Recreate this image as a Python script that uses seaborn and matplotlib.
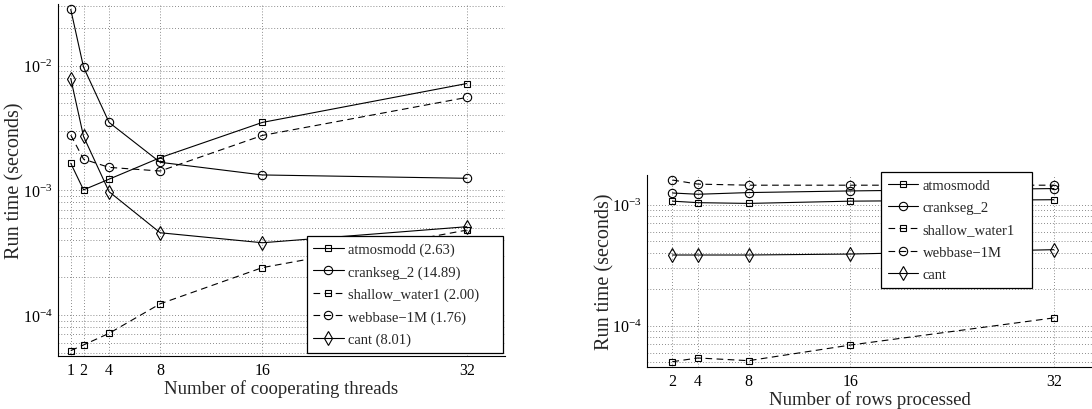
import numpy as np
import pandas as pd
import seaborn as sns
import matplotlib.pyplot as plt
from matplotlib import ticker

# left panel: run time vs number of cooperating threads
threads = [1, 2, 4, 8, 16, 32]
left_names = ['atmosmodd (2.63)', 'crankseg_2 (14.89)', 'shallow_water1 (2.00)',
              'webbase\u22121M (1.76)', 'cant (8.01)']
left_atmosmodd = [1.65e-3, 1.01e-3, 1.23e-3, 1.83e-3, 3.51e-3, 7.2e-3]
left_crankseg = [2.83e-2, 9.75e-3, 3.51e-3, 1.68e-3, 1.33e-3, 1.25e-3]
left_shallow = [5.18e-5, 5.75e-5, 7.13e-5, 1.23e-4, 2.4e-4, 4.8e-4]
left_webbase = [2.78e-3, 1.78e-3, 1.53e-3, 1.43e-3, 2.76e-3, 5.57e-3]
left_cant = [7.9e-3, 2.71e-3, 9.76e-4, 4.57e-4, 3.8e-4, 5.11e-4]

# right panel: run time vs number of rows processed
rows = [2, 4, 8, 16, 32]
right_names = ['atmosmodd', 'crankseg_2', 'shallow_water1', 'webbase\u22121M', 'cant']
right_atmosmodd = [1.07e-3, 1.04e-3, 1.025e-3, 1.07e-3, 1.1e-3]
right_crankseg = [1.25e-3, 1.22e-3, 1.26e-3, 1.30e-3, 1.36e-3]
right_shallow = [5.04e-5, 5.41e-5, 5.14e-5, 6.92e-5, 1.16e-4]
right_webbase = [1.6e-3, 1.48e-3, 1.45e-3, 1.45e-3, 1.45e-3]
right_cant = [3.84e-4, 3.84e-4, 3.84e-4, 3.91e-4, 4.25e-4]

markers = ['s', 'o', 's', 'o', 'd']
dashed = [False, False, True, True, False]
marker_size = {'s': 5.0, 'o': 6.0, 'd': 7.0}
dot = (0, (1, 2.5))


def long_frame(xs, names, series, xcol):
    recs = []
    for name, vals in zip(names, series):
        for x, v in zip(xs, vals):
            recs.append({xcol: x, 'time': v, 'matrix': name})
    return pd.DataFrame(recs)


def draw_panel(ax, df, names, xcol, xticks, ylim, xlabel):
    sns.lineplot(data=df, x=xcol, y='time', hue='matrix', style='matrix',
                 hue_order=names, style_order=names,
                 palette=['black'] * len(names),
                 markers=dict(zip(names, markers)),
                 dashes={n: ((6, 4) if d else '') for n, d in zip(names, dashed)},
                 markerfacecolor='none', markeredgecolor='black',
                 markeredgewidth=0.8, markersize=6, linewidth=0.8,
                 legend=False, ax=ax)
    for line, m in zip(ax.lines, markers):
        line.set_markersize(marker_size[m])
    ax.set_yscale('log')
    ax.set_xlim(0, 35)
    ax.set_ylim(*ylim)
    ax.set_xticks(xticks)
    ax.set_xticklabels([str(t) for t in xticks])
    ax.yaxis.set_major_locator(ticker.LogLocator(base=10))
    ax.yaxis.set_minor_locator(ticker.LogLocator(base=10, subs=np.arange(2, 10)))
    ax.yaxis.set_minor_formatter(ticker.NullFormatter())
    ax.grid(True, which='major', axis='both', linestyle=dot, color='#666666', linewidth=0.6)
    ax.grid(True, which='minor', axis='y', linestyle=dot, color='#666666', linewidth=0.6)
    ax.set_axisbelow(True)
    for side in ['top', 'right']:
        ax.spines[side].set_visible(False)
    for side in ['left', 'bottom']:
        ax.spines[side].set_color('black')
        ax.spines[side].set_linewidth(0.8)
    ax.tick_params(which='both', direction='in', labelsize=11.5, colors='black', pad=4)
    ax.tick_params(which='minor', length=0)
    ax.set_xlabel(xlabel, fontsize=13.5, labelpad=1)
    ax.set_ylabel('Run time (seconds)', fontsize=14.5)


sns.set_theme(style='white')
plt.rcParams['font.family'] = ['Liberation Serif', 'DejaVu Serif']
plt.rcParams['mathtext.fontset'] = 'stix'

fig = plt.figure(figsize=(10.92, 4.10), dpi=100)
ax1 = fig.add_axes([0.0531, 0.1293, 0.4094, 0.8585])
ax2 = fig.add_axes([0.5925, 0.1017, 0.4075, 0.4690])

df_left = long_frame(threads, left_names,
                     [left_atmosmodd, left_crankseg, left_shallow, left_webbase, left_cant],
                     'threads')
df_right = long_frame(rows, right_names,
                      [right_atmosmodd, right_crankseg, right_shallow, right_webbase, right_cant],
                      'rows')

draw_panel(ax1, df_left, left_names, 'threads', threads, (4.69e-5, 3.13e-2),
           'Number of cooperating threads')
draw_panel(ax2, df_right, right_names, 'rows', rows, (4.53e-5, 1.76e-3),
           'Number of rows processed')
ax1.yaxis.set_label_coords(-0.074, 0.5)
ax2.yaxis.set_label_coords(-0.074, 0.5)

for ax, names, loc, box in [(ax1, left_names, 'lower left', (0.556, 0.0094, 0.439, 0)),
                            (ax2, right_names, 'upper left', (0.526, 1.014, 0.3385, 0))]:
    leg = ax.legend(ax.lines[:len(names)], names, loc=loc, bbox_to_anchor=box,
                    mode='expand', fontsize=10.5, frameon=True, fancybox=False,
                    framealpha=1, edgecolor='black', handlelength=2.1,
                    handletextpad=0.3, labelspacing=0.62, borderpad=0.45,
                    borderaxespad=0, numpoints=1)
    leg.get_frame().set_linewidth(0.9)

fig.savefig('out.png', dpi=100)
